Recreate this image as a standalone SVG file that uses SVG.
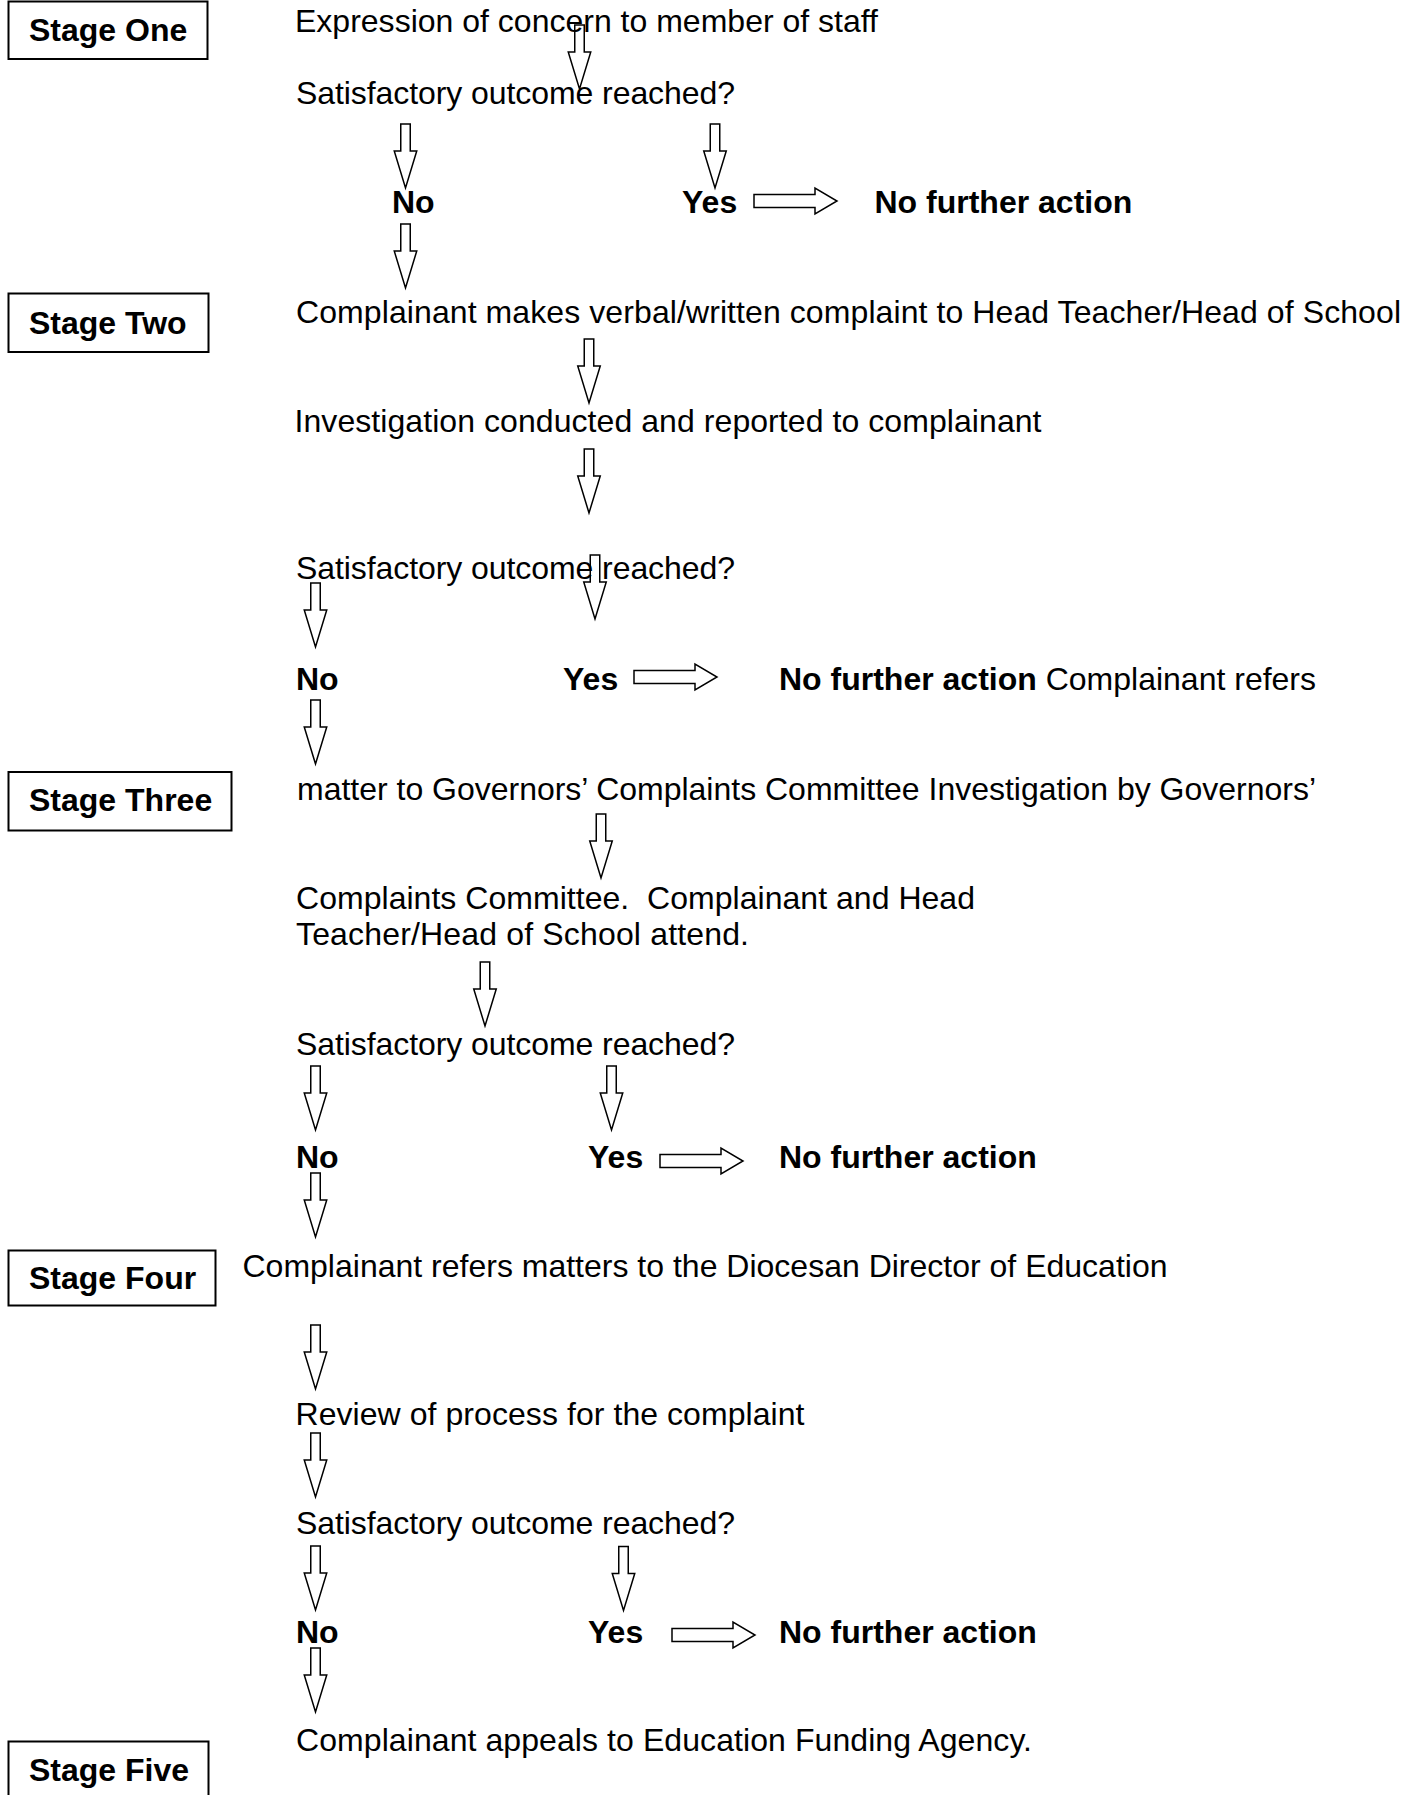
<svg xmlns="http://www.w3.org/2000/svg" xmlns:xlink="http://www.w3.org/1999/xlink" width="1419" height="1795" viewBox="0 0 1419 1795">
<style>
.t{font-family:"Liberation Sans",Arial,sans-serif;font-size:32px;fill:#000;white-space:pre}
.b{font-weight:bold}
.box{fill:#fff;stroke:#000;stroke-width:2}
.ar{fill:none;stroke:#000;stroke-width:1.5;stroke-linejoin:miter}
</style>
<defs>
<path id="down" d="M-4.75,0 H4.75 V27 H11.25 L0,64 L-11.25,27 H-4.75 Z"/>
<path id="right" d="M0,-6.5 H61 V-13 L83,0 L61,13 V6.5 H0 Z"/>
</defs>
<rect width="1419" height="1795" fill="#fff"/>

<g id="stage-one"><rect class="box" x="8.5" y="1.5" width="199" height="57.5"/><text class="t b" x="29" y="40.5">Stage One</text></g>
<g id="stage-two"><rect class="box" x="8.5" y="293.5" width="200" height="58.5"/><text class="t b" x="29" y="334">Stage Two</text></g>
<g id="stage-three"><rect class="box" x="8.5" y="772" width="223" height="58.5"/><text class="t b" x="29" y="811">Stage Three</text></g>
<g id="stage-four"><rect class="box" x="8.5" y="1250.5" width="207" height="55"/><text class="t b" x="29" y="1289">Stage Four</text></g>
<g id="stage-five"><rect class="box" x="8.5" y="1741.5" width="200" height="70"/><text class="t b" x="29" y="1781">Stage Five</text></g>

<g id="n-expression"><text class="t" x="295" y="31.5" textLength="583">Expression of concern to member of staff</text></g>
<g id="n-outcome1"><text class="t" x="296" y="103.5" textLength="439">Satisfactory outcome reached?</text></g>
<g id="n-no1"><text class="t b" x="392" y="212.5">No</text></g>
<g id="n-yes1"><text class="t b" x="682" y="212.5">Yes</text></g>
<g id="n-nfa1"><text class="t b" x="874.5" y="212.5">No further action</text></g>

<g id="n-complaint"><text class="t" x="296" y="322.7" textLength="1105">Complainant makes verbal/written complaint to Head Teacher/Head of School</text></g>
<g id="n-investigation"><text class="t" x="294.5" y="432" textLength="747">Investigation conducted and reported to complainant</text></g>
<g id="n-outcome2"><text class="t" x="296" y="579" textLength="439">Satisfactory outcome reached?</text></g>
<g id="n-no2"><text class="t b" x="296" y="689.5">No</text></g>
<g id="n-yes2"><text class="t b" x="563" y="689.5">Yes</text></g>
<g id="n-nfa2"><text class="t" x="779" y="689.5"><tspan class="b">No further action</tspan> Complainant refers</text></g>

<g id="n-governors"><text class="t" x="297" y="800" textLength="1019">matter to Governors’ Complaints Committee Investigation by Governors’</text></g>
<g id="n-committee"><text class="t" x="296" y="908.5" textLength="679">Complaints Committee.  Complainant and Head</text><text class="t" x="296" y="945" textLength="453">Teacher/Head of School attend.</text></g>
<g id="n-outcome3"><text class="t" x="296" y="1055" textLength="439">Satisfactory outcome reached?</text></g>
<g id="n-no3"><text class="t b" x="296" y="1168">No</text></g>
<g id="n-yes3"><text class="t b" x="588" y="1168">Yes</text></g>
<g id="n-nfa3"><text class="t b" x="779" y="1168">No further action</text></g>

<g id="n-diocesan"><text class="t" x="242.5" y="1277" textLength="925">Complainant refers matters to the Diocesan Director of Education</text></g>
<g id="n-review"><text class="t" x="295.5" y="1425" textLength="509">Review of process for the complaint</text></g>
<g id="n-outcome4"><text class="t" x="296" y="1533.5" textLength="439">Satisfactory outcome reached?</text></g>
<g id="n-no4"><text class="t b" x="296" y="1642.5">No</text></g>
<g id="n-yes4"><text class="t b" x="588" y="1642.5">Yes</text></g>
<g id="n-nfa4"><text class="t b" x="779" y="1642.5">No further action</text></g>
<g id="n-efa"><text class="t" x="296" y="1751" textLength="736">Complainant appeals to Education Funding Agency.</text></g>

<g id="connectors" class="ar">
<use xlink:href="#down" href="#down" x="579.5" y="25"/>
<use xlink:href="#down" href="#down" x="405.5" y="124"/>
<use xlink:href="#down" href="#down" x="715" y="124"/>
<use xlink:href="#down" href="#down" x="405.5" y="224"/>
<use xlink:href="#down" href="#down" x="589" y="339"/>
<use xlink:href="#down" href="#down" x="589" y="449"/>
<use xlink:href="#down" href="#down" x="595" y="555"/>
<use xlink:href="#down" href="#down" x="315.5" y="583"/>
<use xlink:href="#down" href="#down" x="315.5" y="700"/>
<use xlink:href="#down" href="#down" x="601" y="814"/>
<use xlink:href="#down" href="#down" x="485" y="962"/>
<use xlink:href="#down" href="#down" x="315.5" y="1066"/>
<use xlink:href="#down" href="#down" x="611.5" y="1066"/>
<use xlink:href="#down" href="#down" x="315.5" y="1173"/>
<use xlink:href="#down" href="#down" x="315.5" y="1325"/>
<use xlink:href="#down" href="#down" x="315.5" y="1433"/>
<use xlink:href="#down" href="#down" x="315.5" y="1546"/>
<use xlink:href="#down" href="#down" x="623.5" y="1546.5"/>
<use xlink:href="#down" href="#down" x="315.5" y="1648"/>
<use xlink:href="#right" href="#right" x="754" y="201"/>
<use xlink:href="#right" href="#right" x="634" y="677"/>
<use xlink:href="#right" href="#right" x="660" y="1161"/>
<use xlink:href="#right" href="#right" x="672" y="1635"/>
</g>
</svg>
